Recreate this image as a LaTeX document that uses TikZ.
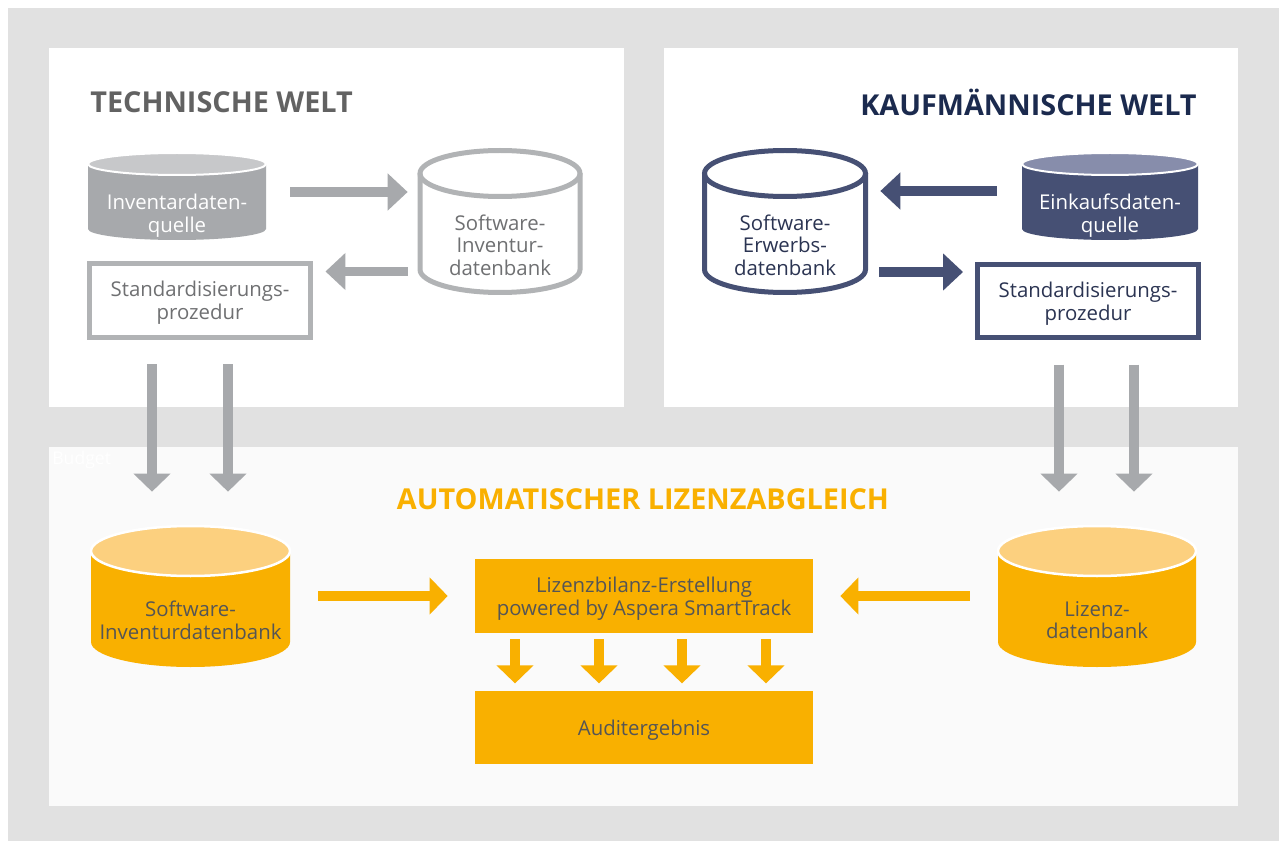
\documentclass[tikz,border=0pt]{standalone}
\usepackage{fontspec}
\setmainfont{Open Sans}
\usetikzlibrary{arrows.meta}
\definecolor{hgrau}{HTML}{E1E1E1}
\definecolor{panel}{HTML}{FAFAFA}
\definecolor{techtitel}{HTML}{626262}
\definecolor{techfill}{HTML}{A7A9AC}
\definecolor{techtop}{HTML}{C7C8CA}
\definecolor{techline}{HTML}{B1B3B5}
\definecolor{techtext}{HTML}{6F7072}
\definecolor{navy}{HTML}{465074}
\definecolor{navytop}{HTML}{878DAB}
\definecolor{navytitel}{HTML}{1B2A4E}
\definecolor{navytext}{HTML}{2B3452}
\definecolor{orange}{HTML}{F9B000}
\definecolor{orangetop}{HTML}{FCD07F}
\definecolor{orangetext}{HTML}{555555}

\begin{document}
\begin{tikzpicture}[x=0.02cm, y=-0.02cm,
  txt/.style={font=\fontsize{11.6}{12.9}\selectfont, align=center, inner sep=0pt, text depth=-1pt},
  titel/.style={font=\bfseries\fontsize{16.4}{18}\selectfont, inner sep=0pt},
  kasten/.style={txt, line width=0.1cm, minimum width=4.44cm, minimum height=1.47cm},
  block/.style={txt, fill=orange, text=orangetext, minimum width=6.76cm, minimum height=1.47cm},
  pfeil/.style={line width=0.19cm, -{Triangle[width=0.72cm, length=0.4cm]}},
  pfeilk/.style={line width=0.19cm, -{Triangle[width=0.72cm, length=0.36cm]}}]
\useasboundingbox (0,0) rectangle (1285,841);

% 背景
\fill[hgrau] (8,8) rectangle (1279,841);
\fill[white] (49,48) rectangle (624,407);
\fill[white] (664,48) rectangle (1238,407);
\fill[panel] (49,447) rectangle (1238,806);

% 标题
\node[titel, text=techtitel, anchor=west] (techtitel) at (90,102) {TECHNISCHE WELT};
\node[titel, text=navytitel, anchor=east] (kauftitel) at (1197,102) {KAUFMÄNNISCHE WELT};
\node[titel, text=orange] (abgltitel) at (643,499) {AUTOMATISCHER LIZENZABGLEICH};
\node[txt, text=white, anchor=west, font=\fontsize{10}{12}\selectfont] (budget) at (52,458) {Budget};

% 技术世界
\fill[techfill] (88,164) -- (88,229) arc[start angle=180, end angle=0, x radius=89, y radius=11] -- (266,164) -- cycle;
\filldraw[fill=techtop, draw=white, line width=0.04cm] (177,164) ellipse [x radius=89, y radius=11];
\draw[techline, line width=0.1cm] (420,173.5) -- (420,269.5) arc[start angle=180, end angle=0, x radius=80, y radius=23] -- (580,173.5);
\draw[techline, line width=0.1cm] (500,173.5) ellipse [x radius=80, y radius=23];

\node[txt, text=white, minimum width=3.56cm, minimum height=1.08cm] (invq) at (177,213) {Inventardaten-\\quelle};
\node[txt, text=techtext, minimum width=3.2cm, minimum height=1.92cm] (swinv) at (500,245) {Software-\\Inventur-\\datenbank};
\node[kasten, draw=techline, text=techtext] (stdl) at (200,300.5) {Standardisierungs-\\prozedur};

% 商业世界
\fill[navy] (1022,164) -- (1022,229) arc[start angle=180, end angle=0, x radius=88, y radius=11] -- (1198,164) -- cycle;
\filldraw[fill=navytop, draw=white, line width=0.04cm] (1110,164) ellipse [x radius=88, y radius=11];
\draw[navy, line width=0.1cm] (704.5,173.5) -- (704.5,269.5) arc[start angle=180, end angle=0, x radius=80.5, y radius=23] -- (865.5,173.5);
\draw[navy, line width=0.1cm] (785,173.5) ellipse [x radius=80.5, y radius=23];

\node[txt, text=white, minimum width=3.52cm, minimum height=1.08cm] (einkauf) at (1110,213) {Einkaufsdaten-\\quelle};
\node[txt, text=navytext, minimum width=3.22cm, minimum height=1.92cm] (erwerb) at (785,245) {Software-\\Erwerbs-\\datenbank};
\node[kasten, draw=navy, text=navytext] (stdr) at (1088,301) {Standardisierungs-\\prozedur};

% 自动许可证核对
\fill[orange] (91,551) -- (91,642) arc[start angle=180, end angle=0, x radius=99.5, y radius=25] -- (290,551) -- cycle;
\filldraw[fill=orangetop, draw=white, line width=0.05cm] (190.5,551) ellipse [x radius=99.5, y radius=25];
\fill[orange] (998,551) -- (998,642) arc[start angle=180, end angle=0, x radius=99, y radius=25] -- (1196,551) -- cycle;
\filldraw[fill=orangetop, draw=white, line width=0.05cm] (1097,551) ellipse [x radius=99, y radius=25];

\node[txt, text=orangetext, minimum width=3.98cm, minimum height=1.88cm] (swbest) at (190.5,620) {Software-\\Inventurdatenbank};
\node[txt, text=orangetext, minimum width=3.96cm, minimum height=1.88cm] (lizdb) at (1097,620) {Lizenz-\\datenbank};
\node[block] (bilanz) at (644,596) {Lizenzbilanz-Erstellung\\powered by Aspera SmartTrack};
\node[block] (audit) at (644,727.5) {Auditergebnis};

% 箭头
\draw[pfeil, techfill, shorten <=0.48cm, shorten >=0.24cm] ([yshift=0.42cm]invq.east) -- ([yshift=0.42cm]invq.east -| swinv.west);
\draw[pfeil, techfill, shorten <=0.24cm, shorten >=0.24cm] ([yshift=-0.53cm]swinv.west) -- ([yshift=-0.53cm]swinv.west -| stdl.east);
\foreach \dx in {-0.96,0.56}
  \draw[pfeilk, techfill, shorten <=0.49cm, shorten >=1.62cm] ([xshift=\dx cm]stdl.south) -- ([xshift=\dx cm]stdl.south |- swbest.north);

\draw[pfeil, navy, shorten <=0.5cm, shorten >=0.29cm] ([yshift=0.44cm]einkauf.west) -- ([yshift=0.44cm]einkauf.west -| erwerb.east);
\draw[pfeil, navy, shorten <=0.27cm, shorten >=0.23cm] ([yshift=-0.54cm]erwerb.east) -- ([yshift=-0.54cm]erwerb.east -| stdr.west);
\foreach \dx in {-0.58,0.92}
  \draw[pfeilk, techfill, shorten <=0.49cm, shorten >=1.62cm] ([xshift=\dx cm]stdr.south) -- ([xshift=\dx cm]stdr.south |- lizdb.north);

\draw[pfeilk, orange, shorten <=0.56cm, shorten >=0.54cm] ([yshift=0.48cm]swbest.east) -- ([yshift=0.48cm]swbest.east -| bilanz.west);
\draw[pfeilk, orange, shorten <=0.56cm, shorten >=0.54cm] ([yshift=0.48cm]lizdb.west) -- ([yshift=0.48cm]lizdb.west -| bilanz.east);
\foreach \dx in {-2.58,-0.9,0.76,2.44}
  \draw[pfeilk, orange, shorten <=0.12cm, shorten >=0.14cm] ([xshift=\dx cm]bilanz.south) -- ([xshift=\dx cm]audit.north);
\end{tikzpicture}
\end{document}
